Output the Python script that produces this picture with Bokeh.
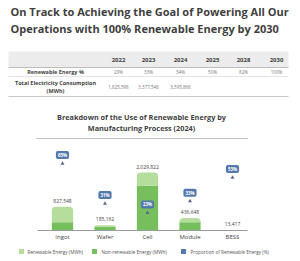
from bokeh.plotting import figure
from bokeh.models import ColumnDataSource, Range1d
from bokeh.core.properties import value
from bokeh.embed import file_html
from bokeh.resources import INLINE

FONT = value("Open Sans")

# ---------------- data ----------------
title_lines = ["On Track to Achieving the Goal of Powering All Our",
               "Operations with 100% Renewable Energy by 2030"]
years = ["2022", "2023", "2024", "2025", "2028", "2030"]
renewable_share = ["29%", "33%", "34%", "50%", "82%", "100%"]
consumption = ["1,825,598", "3,377,548", "3,595,868", "", "", ""]
row_label_1 = "Renewable Energy %"
row_label_2 = ["Total Electricity Consumption", "(MWh)"]

chart_title = ["Breakdown of the Use of Renewable Energy by",
               "Manufacturing Process (2024)"]
processes = ["Ingot", "Wafer", "Cell", "Module", "BESS"]
totals = [827548, 185162, 2029822, 436648, 13417]
non_renewable = [289642, 127762, 1562963, 292554, 6306]
renewable_pct = [65, 31, 23, 33, 53]
series_names = ["Renewable Energy (MWh)", "Non-renewable Energy (MWh)",
                "Proportion of Renewable Energy (%)"]
series_colors = ["#b5dd9b", "#77bf5d", "#5479ab"]

TXT = "#3f3f3f"
W, H = 300, 261

# single canvas; default ranges are pixel-like layout coordinates (y grows downward)
p = figure(width=W, height=H, x_range=Range1d(0, W), y_range=Range1d(H, 0),
           output_backend="svg", toolbar_location=None, min_border=0,
           x_axis_location=None, y_axis_location=None)
p.grid.visible = False
p.outline_line_color = None

# chart scales: categories, MWh values, percentages
CAT0, CAT_STEP = 62, 42.5          # first category centre / spacing (px)
BASE, VAL_PER_PX = 230, 35000      # baseline (px) / MWh per px
PCT_REF_Y, PCT_REF, PX_PER_PCT = 163, 65, 1.176
p.extra_x_ranges = {"cat": Range1d(-CAT0 / CAT_STEP, (W - CAT0) / CAT_STEP)}
p.extra_y_ranges = {
    "val": Range1d(-(H - BASE) * VAL_PER_PX, BASE * VAL_PER_PX),
    "pct": Range1d(PCT_REF - (H - PCT_REF_Y) / PX_PER_PCT, PCT_REF + PCT_REF_Y / PX_PER_PCT),
}

# ---------------- title + table ----------------
p.text(x=[10, 10], y=[11, 28], text=title_lines, text_font=FONT,
       text_font_style="bold", text_font_size="11px", text_baseline="middle",
       text_color=TXT)

p.quad(left=[8], right=[288], top=[51], bottom=[67], fill_color="#ececec", line_color=None)
p.segment(x0=[8, 8, 8], x1=[288, 288, 288], y0=[67, 76, 96], y1=[67, 76, 96],
          line_color=["#bdbdbd", "#e4e4e4", "#c8c8c8"], line_width=1)

col_x = [118, 148, 180, 212, 243, 276]
p.text(x=col_x, y=[59.5] * 6, text=years, text_font=FONT, text_font_style="bold",
       text_font_size="6px", text_align="center", text_baseline="middle", text_color=TXT)
p.text(x=col_x, y=[71.5] * 6, text=renewable_share, text_font=FONT,
       text_font_size="4.5px", text_align="center", text_baseline="middle", text_color="#777777")
p.text(x=col_x, y=[86] * 6, text=consumption, text_font=FONT,
       text_font_size="4.5px", text_align="center", text_baseline="middle", text_color="#777777")
p.text(x=[55, 55, 55], y=[71.5, 82, 90], text=[row_label_1] + row_label_2, text_font=FONT,
       text_font_style="bold", text_font_size="5.5px", text_align="center",
       text_baseline="middle", text_color=TXT)

p.text(x=[141, 141], y=[116.5, 127.5], text=chart_title, text_font=FONT,
       text_font_style="bold", text_font_size="7.3px", text_align="center",
       text_baseline="middle", text_color=TXT)
p.segment(x0=[36], x1=[247], y0=[138], y1=[138], line_color="#8a8a8a",
          line_dash="1 1", line_width=1)

# ---------------- chart ----------------
idx = list(range(len(processes)))
src = ColumnDataSource(dict(
    i=idx, proc=processes, total=totals, nonren=non_renewable, pct=renewable_pct,
    total_lbl=[f"{v:,}" for v in totals], pct_lbl=[f"{v}%" for v in renewable_pct]))

p.vbar(x="i", bottom=0, top="nonren", width=0.5, source=src,
       x_range_name="cat", y_range_name="val",
       fill_color=series_colors[1], line_color=None)
p.vbar(x="i", bottom="nonren", top="total", width=0.5, source=src,
       x_range_name="cat", y_range_name="val",
       fill_color=series_colors[0], line_color=None, border_radius=(4, 4, 0, 0))
p.text(x="i", y="total", text="total_lbl", source=src, y_offset=-6,
       x_range_name="cat", y_range_name="val",
       text_font=FONT, text_font_size="5px", text_align="center",
       text_baseline="middle", text_color="#444444")

p.scatter(x="i", y="pct", source=src, x_range_name="cat", y_range_name="pct",
          marker="triangle", size=4, fill_color="#56698a", line_color=None)
p.text(x="i", y="pct", text="pct_lbl", source=src, x_range_name="cat", y_range_name="pct",
       y_offset=-8.5, text_font=FONT, text_font_style="bold", text_font_size="4.5px",
       text_align="center", text_baseline="middle", text_color="white",
       background_fill_color=series_colors[2], border_radius=2, padding=(2, 1))

# category axis line + labels
p.segment(x0=[37], x1=[247], y0=[BASE], y1=[BASE], line_color="#9a9a9a", line_width=1)
p.text(x="i", y=BASE + 6, text="proc", source=src, x_range_name="cat",
       text_font=FONT, text_font_size="6px", text_align="center",
       text_baseline="middle", text_color="#444444")

# ---------------- legend ----------------
p.scatter(x=[21, 94, 183], y=[251, 251, 251], marker="square", size=5,
          fill_color=series_colors, line_color=None)
p.text(x=[27, 101, 190], y=[251, 251, 251], text=series_names, text_font=FONT,
       text_font_size="4.7px", text_baseline="middle", text_color="#555555")

open("out.html", "w").write(file_html(p, INLINE))
